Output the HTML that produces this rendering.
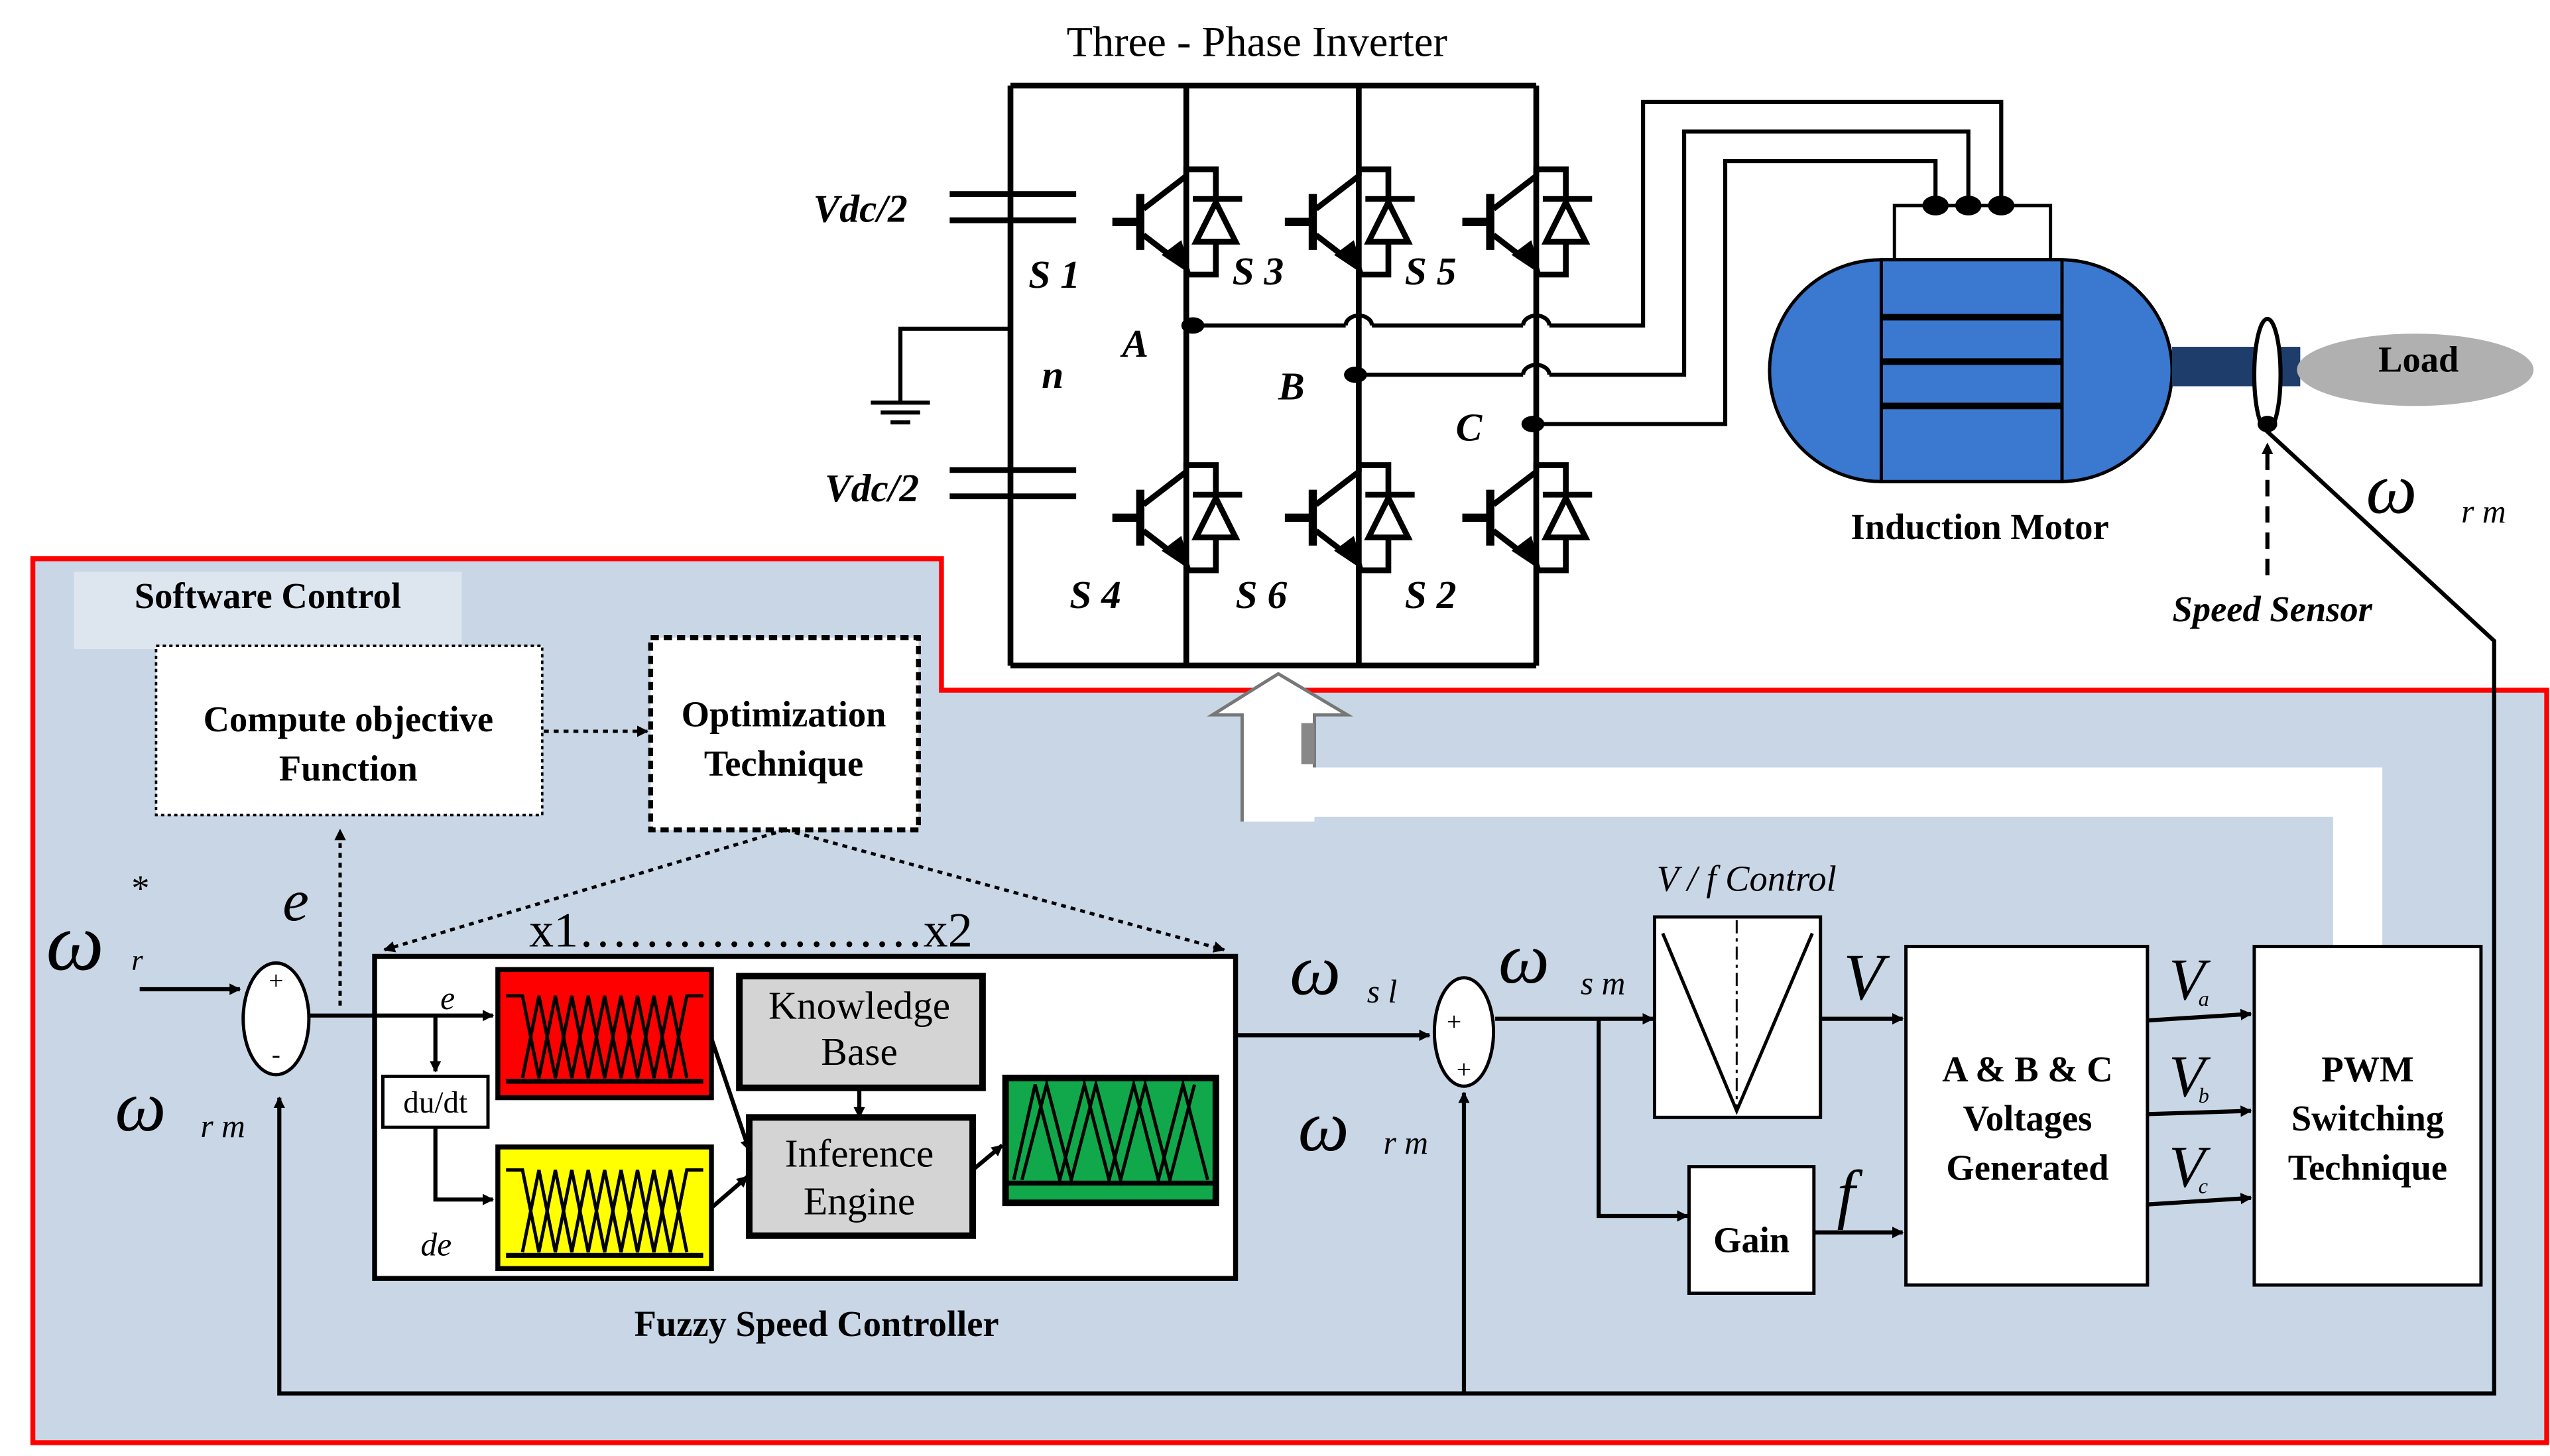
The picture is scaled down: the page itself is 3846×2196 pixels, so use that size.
<!DOCTYPE html>
<html><head><meta charset="utf-8"><style>
html,body{margin:0;padding:0;background:#fff}
svg{display:block}
text{font-family:"Liberation Serif",serif}
</style></head><body>
<svg width="3846" height="2196" viewBox="0 0 1552 886" xmlns="http://www.w3.org/2000/svg">
<defs>
<marker id="ar" viewBox="0 0 10 10" refX="9" refY="5" markerWidth="7" markerHeight="7" orient="auto" markerUnits="userSpaceOnUse"><path d="M0,0L10,5L0,10z" fill="#000"/></marker>
<marker id="ar2" viewBox="0 0 10 10" refX="9" refY="5" markerWidth="12" markerHeight="12" orient="auto" markerUnits="userSpaceOnUse"><path d="M0,1L10,5L0,9z" fill="#000"/></marker>
<g id="igbt" fill="none" stroke="#000" stroke-width="3.5">
<path d="M-45,0H-28M-28,-17V17" stroke-width="5"/>
<path d="M-26,-8L0,-28M-26,8L0,28"/>
<path d="M-12,20L0,28L-4,14z" fill="#000"/>
<path d="M0,-28V-32H18V-12M18,12V32H0"/>
<path d="M4,-14H34" />
<path d="M6,12H30L18,-12z"/>
</g>
<g id="mf" fill="none" stroke="#000" stroke-width="2">
<polyline points="0,12 10,12 20,62 30,12 40,62 50,12 60,62 70,12 80,62 90,12 100,62 110,12 120,12"/>
<polyline points="10,62 20,12 30,62 40,12 50,62 60,12 70,62 80,12 90,62 100,12 110,62"/>
<path d="M0,64H120" stroke-width="3"/>
</g>
</defs>
<rect width="1552" height="886" fill="#fff"/>
<!-- inverter -->
<text x="765" y="34" font-size="26" text-anchor="middle">Three - Phase Inverter</text>
<g stroke="#000" stroke-width="3.5" fill="none">
<path d="M615,52H935M615,405H935M615,52V405M722,52V405M827,52V405M935,52V405"/>
<path d="M578,118H655M578,134H655M615,126H615"/>
<path d="M578,286H655M578,302H655"/>
<path d="M615,200H548V245M530,245H566M536,251H560M542,257H554" stroke-width="2.5"/>
</g>
<use href="#igbt" x="722" y="135"/><use href="#igbt" x="827" y="135"/><use href="#igbt" x="935" y="135"/>
<use href="#igbt" x="722" y="315"/><use href="#igbt" x="827" y="315"/><use href="#igbt" x="935" y="315"/>
<g fill="none" stroke="#000" stroke-width="2.5">
<path d="M726,198H819M835,198H927M943,198H1000V62H1218V124"/>
<path d="M819,198A8,6 0 0 1 835,198M927,198A8,6 0 0 1 943,198"/>
<path d="M825,228H927M943,228H1025V80H1198V124M927,228A8,6 0 0 1 943,228"/>
<path d="M933,258H1050V98H1178V124"/>
</g>
<g fill="#000"><ellipse cx="726" cy="198" rx="7" ry="5"/><ellipse cx="825" cy="228" rx="7" ry="5"/><ellipse cx="933" cy="258" rx="7" ry="5"/></g>
<g font-size="24" font-style="italic" font-weight="bold">
<text x="495" y="135">Vdc/2</text><text x="502" y="305">Vdc/2</text>
<text x="626" y="175">S 1</text><text x="634" y="236">n</text><text x="683" y="217">A</text>
<text x="778" y="243">B</text><text x="886" y="268">C</text>
<text x="750" y="173">S 3</text><text x="855" y="173">S 5</text>
<text x="651" y="370">S 4</text><text x="752" y="370">S 6</text><text x="855" y="370">S 2</text>
</g>
<!-- motor -->
<path d="M1153,158V125H1248V158" fill="none" stroke="#000" stroke-width="2"/>
<g fill="#000"><ellipse cx="1178" cy="125" rx="8" ry="6"/><ellipse cx="1198" cy="125" rx="8" ry="6"/><ellipse cx="1218" cy="125" rx="8" ry="6"/></g>
<rect x="1077" y="158" width="245" height="135" rx="68" fill="#3b78d0" stroke="#000" stroke-width="2"/>
<rect x="1145" y="158" width="110" height="135" fill="#3b78d0" stroke="#000" stroke-width="2"/>
<path d="M1145,193H1255M1145,220H1255M1145,247H1255" stroke="#000" stroke-width="4"/>
<rect x="1322" y="211" width="78" height="24" fill="#1f3d6b"/>
<ellipse cx="1470" cy="225" rx="72" ry="22" fill="#b0b0b0"/>
<text x="1472" y="226" font-size="22" font-weight="bold" text-anchor="middle">Load</text>
<ellipse cx="1380" cy="228" rx="8" ry="34" fill="#fff" stroke="#000" stroke-width="2.5"/>
<text x="1205" y="328" font-size="22" font-weight="bold" text-anchor="middle">Induction Motor</text>
<text x="1440" y="312" font-size="44" font-style="italic">ω</text><text x="1498" y="318" font-size="20" font-style="italic">r   m</text>
<path d="M1380,350V270" stroke="#000" stroke-width="2.5" stroke-dasharray="10,6" marker-end="url(#ar)"/>
<text x="1383" y="378" font-size="22" font-style="italic" font-weight="bold" text-anchor="middle">Speed Sensor</text>
<!-- software region -->
<path d="M20,340H573V420H1550V878H20Z" fill="#c8d6e6" stroke="#f00" stroke-width="3"/>
<rect x="45" y="348" width="236" height="47" fill="#dde6ef"/>
<text x="163" y="370" font-size="22" font-weight="bold" text-anchor="middle">Software Control</text>
<g fill="none" stroke="#000" stroke-width="2.5">
<path d="M1375,258L1518,390V848H170V668" marker-end="url(#ar)"/>
<path d="M891,848V665" marker-end="url(#ar)"/>
</g>
<ellipse cx="1380" cy="258" rx="6" ry="5" fill="#000"/>
<rect x="95" y="393" width="235" height="103" fill="#fff" stroke="#000" stroke-width="1.5" stroke-dasharray="2,2"/>
<text x="212" y="445" font-size="22" font-weight="bold" text-anchor="middle">Compute objective</text>
<text x="212" y="475" font-size="22" font-weight="bold" text-anchor="middle">Function</text>
<rect x="396" y="388" width="163" height="117" fill="#fff" stroke="#000" stroke-width="3" stroke-dasharray="5,3"/>
<text x="477" y="442" font-size="22" font-weight="bold" text-anchor="middle">Optimization</text>
<text x="477" y="472" font-size="22" font-weight="bold" text-anchor="middle">Technique</text>
<g fill="none" stroke="#000" stroke-width="2" stroke-dasharray="3,3">
<path d="M331,445H394" marker-end="url(#ar)"/>
<path d="M478,505L234,578" marker-end="url(#ar)"/>
<path d="M478,505L745,578" marker-end="url(#ar)"/>
<path d="M207,612V505" marker-end="url(#ar)"/>
</g>
<!-- big arrow -->
<path d="M1420,576V497H800V500H756V435H738L778,410L820,435H800V467H1450V576Z" fill="#fff"/>
<path d="M756,500V435H738L778,410L820,435H800V467" fill="none" stroke="#777" stroke-width="2"/>
<path d="M792,440V465H800V440Z" fill="#888"/>
<!-- inputs -->
<text x="28" y="590" font-size="50" font-style="italic">ω</text><text x="80" y="590" font-size="18" font-style="italic">r</text><text x="80" y="548" font-size="22">*</text>
<text x="172" y="560" font-size="36" font-style="italic">e</text>
<path d="M85,602H146" stroke="#000" stroke-width="2.5" marker-end="url(#ar)"/>
<ellipse cx="168" cy="620" rx="20" ry="34" fill="#fff" stroke="#000" stroke-width="2"/>
<text x="168" y="602" font-size="16" text-anchor="middle">+</text><text x="168" y="647" font-size="16" text-anchor="middle">-</text>
<text x="70" y="688" font-size="44" font-style="italic">ω</text><text x="122" y="692" font-size="20" font-style="italic">r  m</text>
<!-- fuzzy -->
<rect x="228" y="582" width="524" height="196" fill="#fff" stroke="#000" stroke-width="3"/>
<text x="322" y="576" font-size="30">x1…………………x2</text>
<g fill="none" stroke="#000" stroke-width="2.5">
<path d="M188,618H300" marker-end="url(#ar)"/>
<path d="M265,618V652" marker-end="url(#ar)"/>
<path d="M265,686V730H300" marker-end="url(#ar)"/>
<path d="M433,632L456,700" marker-end="url(#ar)"/>
<path d="M433,735L455,716" marker-end="url(#ar)"/>
<path d="M523,662V680" marker-end="url(#ar)"/>
<path d="M592,712L610,697" marker-end="url(#ar)"/>
</g>
<text x="268" y="614" font-size="20" font-style="italic">e</text>
<rect x="233" y="655" width="64" height="31" fill="#fff" stroke="#000" stroke-width="2"/>
<text x="265" y="677" font-size="19" text-anchor="middle">du/dt</text>
<text x="256" y="764" font-size="20" font-style="italic">de</text>
<rect x="303" y="590" width="130" height="78" fill="#f00" stroke="#000" stroke-width="3"/>
<use href="#mf" x="308" y="594"/>
<rect x="303" y="698" width="130" height="74" fill="#ff0" stroke="#000" stroke-width="3"/>
<use href="#mf" x="308" y="700"/>
<rect x="450" y="594" width="148" height="68" fill="#d4d4d4" stroke="#000" stroke-width="4"/>
<text x="523" y="620" font-size="24" text-anchor="middle">Knowledge</text><text x="523" y="648" font-size="24" text-anchor="middle">Base</text>
<rect x="456" y="680" width="136" height="72" fill="#d4d4d4" stroke="#000" stroke-width="4"/>
<text x="523" y="710" font-size="24" text-anchor="middle">Inference</text><text x="523" y="739" font-size="24" text-anchor="middle">Engine</text>
<rect x="612" y="656" width="128" height="76" fill="#10a84a" stroke="#000" stroke-width="4"/>
<g fill="none" stroke="#000" stroke-width="2"><polyline points="617,718 630,660 645,718 660,660 675,718 690,660 705,718 720,660 735,718"/><polyline points="622,718 637,660 652,718 667,660 682,718 697,660 712,718 727,660"/><path d="M614,720H738" stroke-width="3"/></g>
<text x="497" y="813" font-size="22" font-weight="bold" text-anchor="middle">Fuzzy Speed Controller</text>
<!-- right side -->
<g fill="none" stroke="#000" stroke-width="2.5">
<path d="M752,630H870" marker-end="url(#ar)"/>
<path d="M910,620H1006" marker-end="url(#ar)"/>
<path d="M973,620V740H1027" marker-end="url(#ar)"/>
<path d="M1108,620H1158" marker-end="url(#ar)"/>
<path d="M1104,750H1158" marker-end="url(#ar)"/>
<path d="M1307,621L1370,617" marker-end="url(#ar)"/>
<path d="M1307,678L1370,676" marker-end="url(#ar)"/>
<path d="M1307,733L1370,729" marker-end="url(#ar)"/>
</g>
<text x="785" y="605" font-size="44" font-style="italic">ω</text><text x="832" y="610" font-size="20" font-style="italic">s  l</text>
<ellipse cx="891" cy="628" rx="18" ry="33" fill="#fff" stroke="#000" stroke-width="2"/>
<text x="885" y="627" font-size="16" text-anchor="middle">+</text><text x="891" y="656" font-size="16" text-anchor="middle">+</text>
<text x="790" y="700" font-size="44" font-style="italic">ω</text><text x="842" y="702" font-size="20" font-style="italic">r  m</text>
<text x="912" y="598" font-size="44" font-style="italic">ω</text><text x="962" y="605" font-size="20" font-style="italic">s  m</text>
<text x="1063" y="542" font-size="22" font-style="italic" text-anchor="middle">V / f Control</text>
<rect x="1007" y="558" width="101" height="122" fill="#fff" stroke="#000" stroke-width="2"/>
<path d="M1012,568L1057,676L1103,568" fill="none" stroke="#000" stroke-width="2"/>
<path d="M1057,560V676" stroke="#000" stroke-width="1.2" stroke-dasharray="8,3,2,3"/>
<text x="1122" y="608" font-size="40" font-style="italic">V</text>
<rect x="1028" y="710" width="76" height="77" fill="#fff" stroke="#000" stroke-width="2"/>
<text x="1066" y="762" font-size="22" font-weight="bold" text-anchor="middle">Gain</text>
<text x="1118" y="740" font-size="40" font-style="italic">f</text>
<rect x="1160" y="576" width="147" height="206" fill="#fff" stroke="#000" stroke-width="2"/>
<text x="1234" y="658" font-size="22" font-weight="bold" text-anchor="middle">A &amp; B &amp; C</text>
<text x="1234" y="688" font-size="22" font-weight="bold" text-anchor="middle">Voltages</text>
<text x="1234" y="718" font-size="22" font-weight="bold" text-anchor="middle">Generated</text>
<rect x="1372" y="576" width="138" height="206" fill="#fff" stroke="#000" stroke-width="2"/>
<text x="1441" y="658" font-size="22" font-weight="bold" text-anchor="middle">PWM</text>
<text x="1441" y="688" font-size="22" font-weight="bold" text-anchor="middle">Switching</text>
<text x="1441" y="718" font-size="22" font-weight="bold" text-anchor="middle">Technique</text>
<g font-style="italic"><text x="1320" y="608" font-size="36">V</text><text x="1338" y="612" font-size="13">a</text>
<text x="1320" y="667" font-size="36">V</text><text x="1338" y="671" font-size="13">b</text>
<text x="1320" y="722" font-size="36">V</text><text x="1338" y="726" font-size="13">c</text></g>
</svg>
</body></html>
